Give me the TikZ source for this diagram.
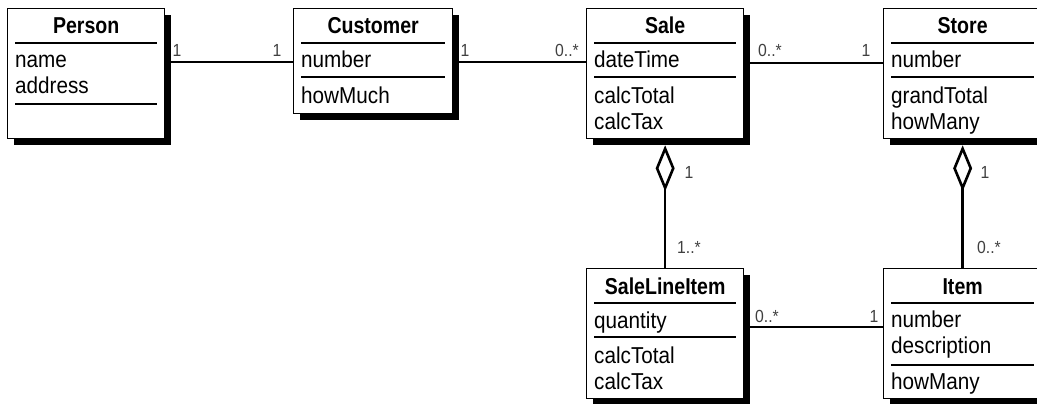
\documentclass[tikz,border=0pt]{standalone}
\usepackage{fontspec}
\setmainfont{Liberation Sans}
\newfontfamily\clsfont{Liberation Sans}[FakeStretch=0.9]
\newfontfamily\titlefont{Liberation Sans}[FakeStretch=0.85]
\usetikzlibrary{arrows.meta,positioning,calc,shadows}

% separator inside a class box, #2 = distance below the top edge
\newcommand\compline[2]{\draw[sep] ($(#1.north west)+(8,#2)$) -- ($(#1.north east)+(-8,#2)$);}

\begin{document}
\begin{tikzpicture}
[x=1pt,y=-1pt,
class/.style={rectangle,draw,fill=white,line width=1.3pt,anchor=north west,inner sep=0pt,
  drop shadow={shadow xshift=6pt,shadow yshift=-6pt,fill=black,opacity=1}},
title/.style={font=\titlefont\bfseries\fontsize{23}{26}\selectfont,anchor=base,inner sep=0pt},
attr/.style={font=\clsfont\fontsize{23}{26}\selectfont,anchor=base west,inner sep=0pt},
sep/.style={line width=1.4pt},
link/.style={line width=2.6pt},
whole/.style={{Diamond[open,length=46pt,width=19pt]}-,line width=2.6pt,shorten <=6pt},
mult/.style={font=\clsfont\fontsize{17.5}{20}\selectfont,text=black!75,inner sep=0pt}]
\useasboundingbox (0,0) rectangle (1037,404);
\begin{scope}
\clip (0,0) rectangle (1037,404);

% classes
\node[class,minimum width=157pt,minimum height=130pt] (person) at (7,8) {};
\node[title] (person-t) at ($(person.north)+(0,26)$) {Person};
\foreach \t/\y in {name/60,address/86}
  \node[attr] (person-\y) at ($(person.north west)+(8,\y)$) {\t};
\compline{person}{35}
\compline{person}{96}

\node[class,minimum width=159pt,minimum height=105pt] (customer) at (293,8) {};
\node[title] (customer-t) at ($(customer.north)+(0,26)$) {Customer};
\foreach \t/\y in {number/60,howMuch/95}
  \node[attr] (customer-\y) at ($(customer.north west)+(8,\y)$) {\t};
\compline{customer}{35}
\compline{customer}{69}

\node[class,minimum width=157pt,minimum height=130pt] (sale) at (586,8) {};
\node[title] (sale-t) at ($(sale.north)+(0,26)$) {Sale};
\foreach \t/\y in {dateTime/60,calcTotal/95,calcTax/121}
  \node[attr] (sale-\y) at ($(sale.north west)+(8,\y)$) {\t};
\compline{sale}{35}
\compline{sale}{69}

\node[class,minimum width=158pt,minimum height=130pt] (store) at (883,8) {};
\node[title] (store-t) at ($(store.north)+(0,26)$) {Store};
\foreach \t/\y in {number/60,grandTotal/95,howMany/121}
  \node[attr] (store-\y) at ($(store.north west)+(8,\y)$) {\t};
\compline{store}{35}
\compline{store}{69}

\node[class,minimum width=157pt,minimum height=130pt] (saleline) at (586,268) {};
\node[title] (saleline-t) at ($(saleline.north)+(0,26)$) {SaleLineItem};
\foreach \t/\y in {quantity/60,calcTotal/95,calcTax/121}
  \node[attr] (saleline-\y) at ($(saleline.north west)+(8,\y)$) {\t};
\compline{saleline}{35}
\compline{saleline}{69}

\node[class,minimum width=158pt,minimum height=130pt] (item) at (883,268) {};
\node[title] (item-t) at ($(item.north)+(0,26)$) {Item};
\foreach \t/\y in {number/59,description/85,howMany/121}
  \node[attr] (item-\y) at ($(item.north west)+(8,\y)$) {\t};
\compline{item}{35}
\compline{item}{97}

% associations
\draw[link] ($(person.north east)+(0,54)$) -- ($(customer.north west)+(0,54)$);
\draw[link] ($(customer.north east)+(0,54)$) -- ($(sale.north west)+(0,54)$);
\draw[link] ($(sale.north east)+(0,55)$) -- ($(store.north west)+(0,55)$);
\draw[link] ($(saleline.north east)+(0,59)$) -- ($(item.north west)+(0,59)$);
\draw[whole] (sale.south) -- (saleline.north);
\draw[whole] (store.south) -- (item.north);

% multiplicities
\node[mult] (m-pc) at (177,50) {1};
\node[mult] (m-cp) at (277,50) {1};
\node[mult] (m-cs) at (465,50) {1};
\node[mult] (m-sc) at (567,50) {0..*};
\node[mult] (m-ss) at (770,50) {0..*};
\node[mult] (m-st) at (866,50) {1};
\node[mult] (m-sw) at (689,172) {1};
\node[mult] (m-sp) at (689,247) {1..*};
\node[mult] (m-tw) at (985,172) {1};
\node[mult] (m-tp) at (989,247) {0..*};
\node[mult] (m-li) at (767,316) {0..*};
\node[mult] (m-il) at (874,316) {1};
\end{scope}
\end{tikzpicture}
\end{document}
